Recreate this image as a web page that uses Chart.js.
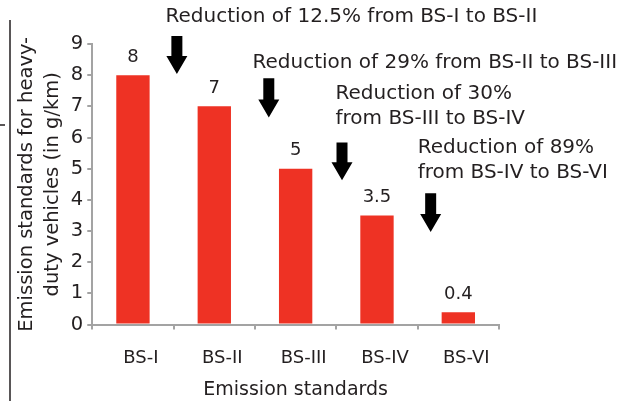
<!DOCTYPE html>
<html>
<head>
<meta charset="utf-8">
<script src="https://cdn.jsdelivr.net/npm/chart.js@4.4.0/dist/chart.umd.min.js"></script>
<style>
  html, body { margin: 0; padding: 0; background: #fff; }
  #wrap { width: 631px; height: 401px; }
</style>
</head>
<body>
<div id="wrap"><canvas id="myChart" width="631" height="401"></canvas></div>
<script>
// chart data
var standards = ["BS-I", "BS-II", "BS-III", "BS-IV", "BS-VI"];
var emission = [8, 7, 5, 3.5, 0.4];
var valueLabels = ["8", "7", "5", "3.5", "0.4"];
var yTicks = [0, 1, 2, 3, 4, 5, 6, 7, 8, 9];

var textColor = "#231f20";
var axisGrey = "#a3a3a3";
var barRed = "#ee3224";
var fontFam = "'DejaVu Sans', sans-serif";

// notes: arrows + text, placed in data units (x = category index, y = value)
var notes = [
  { lines: ["Reduction of 12.5% from BS-I to BS-II"], tx: 0.40, ty: 9.87, ax: 0.54, ay1: 9.26, ay2: 8.04 },
  { lines: ["Reduction of 29% from BS-II to BS-III"], tx: 1.47, ty: 8.39, ax: 1.67, ay1: 7.9, ay2: 6.64 },
  { lines: ["Reduction of 30%", "from BS-III to BS-IV"], tx: 2.49, ty: 7.4, ax: 2.57, ay1: 5.84, ay2: 4.63 },
  { lines: ["Reduction of 89%", "from BS-IV to BS-VI"], tx: 3.5, ty: 5.68, ax: 3.66, ay1: 4.21, ay2: 2.97 }
];

function drawArrow(ctx, x, y1, y2) {
  var shaft = 11, head = 21, headLen = 18;
  ctx.beginPath();
  ctx.moveTo(x - shaft / 2, y1);
  ctx.lineTo(x + shaft / 2, y1);
  ctx.lineTo(x + shaft / 2, y2 - headLen);
  ctx.lineTo(x + head / 2, y2 - headLen);
  ctx.lineTo(x, y2);
  ctx.lineTo(x - head / 2, y2 - headLen);
  ctx.lineTo(x - shaft / 2, y2 - headLen);
  ctx.closePath();
  ctx.fill();
}

var extras = {
  id: "extras",
  afterDatasetsDraw: function (chart) {
    var ctx = chart.ctx;
    var xs = chart.scales.x, ys = chart.scales.y;
    ctx.save();
    // value labels over bars
    ctx.fillStyle = textColor;
    ctx.font = "18px " + fontFam;
    ctx.textAlign = "center";
    ctx.textBaseline = "middle";
    chart.getDatasetMeta(0).data.forEach(function (bar, i) {
      ctx.fillText(valueLabels[i], bar.x, bar.y - 18);
    });
    // notes
    ctx.font = "20px " + fontFam;
    ctx.textAlign = "left";
    notes.forEach(function (n) {
      var tx = xs.getPixelForValue(n.tx), ty = ys.getPixelForValue(n.ty);
      ctx.fillStyle = textColor;
      n.lines.forEach(function (l, k) {
        ctx.fillText(l, tx, ty + k * 25);
      });
      ctx.fillStyle = "#000";
      drawArrow(ctx, xs.getPixelForValue(n.ax), ys.getPixelForValue(n.ay1), ys.getPixelForValue(n.ay2));
    });
    // left frame line
    ctx.strokeStyle = textColor;
    ctx.lineWidth = 1.5;
    ctx.beginPath();
    ctx.moveTo(10, 20);
    ctx.lineTo(10, 401);
    ctx.moveTo(0, 125);
    ctx.lineTo(5, 125);
    ctx.stroke();
    ctx.restore();
  }
};

var ctx = document.getElementById("myChart").getContext("2d");
var chart = new Chart(ctx, {
  type: "bar",
  data: {
    labels: standards,
    datasets: [{
      label: "Emission",
      data: emission,
      backgroundColor: barRed,
      borderWidth: 0,
      categoryPercentage: 1,
      barPercentage: 0.41
    }]
  },
  options: {
    responsive: false,
    animation: false,
    layout: { padding: { left: 14, right: 132, top: 44, bottom: 0 } },
    plugins: { legend: { display: false }, tooltip: { enabled: false } },
    scales: {
      x: {
        border: { color: axisGrey, width: 2 },
        grid: { drawOnChartArea: false, color: axisGrey, lineWidth: 2, tickLength: 5 },
        ticks: { color: textColor, font: { family: fontFam, size: 18 }, padding: 18, labelOffset: 8 },
        title: { display: true, text: "Emission standards", color: textColor, font: { family: fontFam, size: 19 }, padding: { top: -9, bottom: 0 } }
      },
      y: {
        min: 0,
        max: 9,
        afterBuildTicks: function (scale) {
          scale.ticks = yTicks.map(function (v) { return { value: v }; });
        },
        border: { color: axisGrey, width: 2 },
        grid: { drawOnChartArea: false, color: axisGrey, lineWidth: 2, tickLength: 5 },
        ticks: { color: textColor, font: { family: fontFam, size: 19.5 }, padding: 4 },
        title: {
          display: true,
          text: ["Emission standards for heavy-", "duty vehicles (in g/km)"],
          color: textColor,
          font: { family: fontFam, size: 19.5, lineHeight: 1.33 },
          padding: { top: 0, bottom: 1 }
        }
      }
    }
  },
  plugins: [extras]
});
</script>
</body>
</html>
